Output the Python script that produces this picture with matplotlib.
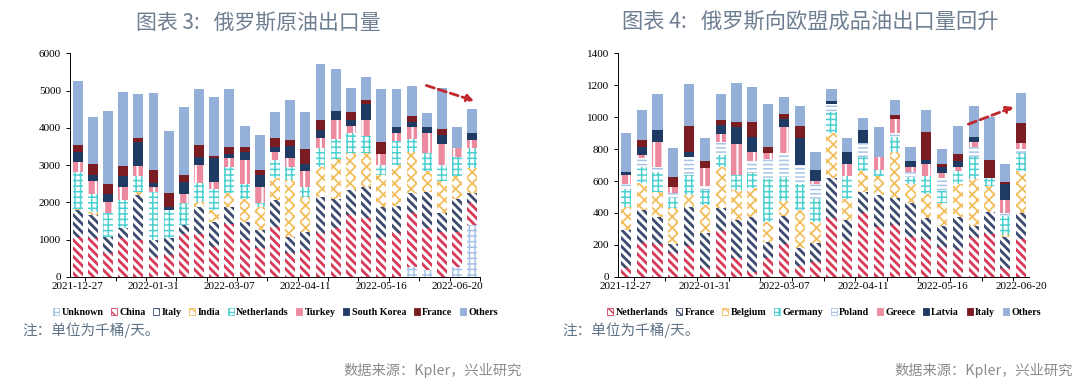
import numpy as np
import matplotlib
matplotlib.use("Agg")
import matplotlib.pyplot as plt
from matplotlib.patches import Patch

plt.rcParams["font.family"] = ["Liberation Serif", "DejaVu Serif"]

# ---- left chart: Russian crude exports by destination (kb/d), weekly from 2021-12-27
crude_ticklabels = ["2021-12-27", "2022-01-31", "2022-03-07", "2022-04-11", "2022-05-16", "2022-06-20"]
crude_names = ["Unknown", "China", "Italy", "India", "Netherlands", "Turkey", "South Korea", "France", "Others"]
crude_unknown = [0] * 22 + [270, 180, 0, 270, 1390]
crude_china = [1070, 1030, 630, 1030, 1000, 540, 580, 1160, 1160, 800, 1430, 980, 760, 1340,
               630, 720, 1180, 1300, 1660, 1570, 1030, 1180, 1430, 1120, 1210, 940, 580]
crude_italy = [730, 620, 440, 270, 1190, 450, 450, 230, 720, 680, 450, 500, 490, 720,
               450, 490, 950, 800, 670, 850, 850, 720, 560, 980, 510, 870, 270]
crude_india = [30, 90, 10, 10, 90, 0, 0, 10, 130, 310, 360, 620, 630, 580,
               1520, 940, 830, 1050, 1000, 910, 850, 1100, 1100, 570, 860, 620, 670]
crude_netherlands = [990, 490, 640, 740, 420, 1280, 760, 570, 500, 580, 710, 400, 90, 490,
                     340, 270, 490, 540, 520, 450, 270, 650, 330, 480, 420, 520, 560]
crude_turkey = [260, 340, 280, 360, 270, 140, 10, 240, 490, 180, 230, 630, 450, 230,
                240, 430, 270, 520, 200, 430, 310, 220, 320, 540, 560, 230, 200]
crude_skorea = [270, 150, 230, 290, 650, 100, 80, 340, 220, 630, 130, 230, 310, 130,
                330, 190, 220, 250, 160, 430, 0, 140, 150, 140, 250, 0, 200]
crude_france = [200, 300, 250, 270, 100, 350, 360, 180, 320, 60, 180, 130, 150, 230,
                160, 380, 270, 0, 220, 120, 320, 0, 160, 0, 150, 0, 0]
crude_others = [1700, 1280, 1960, 2000, 1190, 2070, 1680, 1840, 1500, 1600, 1540, 560, 940, 710,
                1080, 1010, 1500, 1130, 630, 600, 1410, 1030, 800, 400, 1100, 580, 630]

# ---- right chart: Russian product exports to EU by destination (kb/d)
prod_ticklabels = crude_ticklabels
prod_names = ["Netherlands", "France", "Belgium", "Germany", "Poland", "Greece", "Latvia", "Italy", "Others"]
prod_netherlands = [52, 213, 205, 146, 192, 52, 288, 115, 31, 115, 205, 67, 94, 366, 226, 397,
                    314, 324, 247, 234, 184, 167, 247, 268, 52, 234]
prod_france = [241, 205, 171, 59, 247, 220, 140, 240, 345, 104, 175, 111, 115, 251, 129, 136,
               198, 167, 213, 132, 134, 209, 71, 140, 195, 167]
prod_belgium = [146, 167, 157, 223, 73, 177, 262, 188, 178, 126, 96, 240, 136, 282, 130, 132,
                119, 293, 121, 152, 146, 205, 292, 160, 14, 264]
prod_germany = [111, 105, 125, 63, 125, 94, 73, 94, 94, 265, 151, 163, 140, 136, 146, 87,
                38, 94, 46, 113, 76, 84, 138, 49, 119, 108]
prod_poland = [31, 55, 32, 32, 115, 26, 83, 0, 79, 126, 150, 119, 96, 48, 0, 88,
               0, 21, 31, 0, 77, 0, 63, 0, 21, 25]
prod_greece = [56, 18, 156, 41, 0, 110, 49, 195, 57, 37, 159, 0, 21, 0, 75, 0,
               83, 90, 28, 75, 31, 21, 35, 0, 80, 38]
prod_latvia = [17, 48, 74, 0, 32, 0, 56, 104, 94, 0, 53, 167, 67, 18, 78, 80,
               0, 0, 41, 25, 42, 41, 32, 0, 100, 0]
prod_italy = [0, 46, 0, 63, 161, 48, 31, 36, 94, 38, 31, 78, 0, 0, 0, 0,
              0, 25, 0, 178, 16, 42, 0, 114, 15, 125]
prod_others = [245, 188, 223, 182, 261, 140, 161, 244, 219, 272, 104, 125, 115, 74, 83, 73,
               184, 94, 88, 136, 92, 176, 192, 272, 110, 193]

# (facecolor, hatch colour, hatch, hatch linewidth)
RED_H = ("white", "#D63A57", "\\" * 4, 2.0)
NAVY_H = ("white", "#3B4A6E", "\\" * 4, 2.0)
YEL_X = ("white", "#F2BE5C", "xxx", 1.3)
CYAN_G = ("white", "#4DD0D0", "+++", 1.1)
LB_G = ("white", "#A7C3E6", "+++", 1.1)
LB_L = ("white", "#A7C3E6", "----", 1.1)
PINK = ("#EE8AA0", "white", "||", 1.5)
NAVY = ("#1F3B63", "#1F3B63", None, 1.0)
DRED = ("#7B1C22", "#7B1C22", None, 1.0)
LBLUE = ("#94AFD8", "#94AFD8", None, 1.0)

crude_styles = [LB_G, RED_H, NAVY_H, YEL_X, CYAN_G, PINK, NAVY, DRED, LBLUE]
prod_styles = [RED_H, NAVY_H, YEL_X, CYAN_G, LB_L, PINK, NAVY, DRED, LBLUE]


def draw(ax, series, styles, ymax, ystep):
    x = np.arange(len(series[0]))
    bottom = np.zeros(len(x))
    for vals, (fc, hc, h, hlw) in zip(series, styles):
        vals = np.array(vals, dtype=float)
        with plt.rc_context({"hatch.linewidth": hlw}):
            bars = ax.bar(x, vals, 0.65, bottom=bottom, color=fc, edgecolor=hc, hatch=h, lw=0)
        for b in bars:
            if hasattr(b, "set_hatch_linewidth"):
                b.set_hatch_linewidth(hlw)
        bottom += vals
    ax.set_xlim(-0.5, len(x) - 0.5)
    ax.set_ylim(0, ymax)
    ax.set_yticks(np.arange(0, ymax + 1, ystep))
    ax.set_xticks(np.arange(0, len(x), 5))
    ax.set_xticklabels(crude_ticklabels)
    ax.set_xticks(np.arange(0.5, len(x), 2), minor=True)
    ax.tick_params(axis="x", which="major", length=0, pad=4, labelsize=8)
    ax.tick_params(axis="x", which="minor", length=3, width=0.7)
    ax.tick_params(axis="y", length=3, width=0.7, labelsize=8)
    for s in ["top", "right"]:
        ax.spines[s].set_visible(False)
    for s in ["left", "bottom"]:
        ax.spines[s].set_linewidth(0.7)
    # legend swatches: small outlined squares
    handles = []
    for fc, hc, h, hlw in styles:
        edge = hc if fc == "white" else fc
        with plt.rc_context({"hatch.linewidth": 1.0}):
            p = Patch(facecolor=fc, edgecolor=edge, hatch=None if h is None else h[:2], lw=0.6)
        handles.append(p)
    return handles


fig = plt.figure(figsize=(10.8, 3.86), dpi=100)
ax1 = fig.add_axes([0.0648, 0.283, 0.3796, 0.5788])
ax2 = fig.add_axes([0.5722, 0.283, 0.3806, 0.5788])

crude = [crude_unknown, crude_china, crude_italy, crude_india, crude_netherlands,
         crude_turkey, crude_skorea, crude_france, crude_others]
prod = [prod_netherlands, prod_france, prod_belgium, prod_germany, prod_poland,
        prod_greece, prod_latvia, prod_italy, prod_others]
h1 = draw(ax1, crude, crude_styles, 6000, 1000)
h2 = draw(ax2, prod, prod_styles, 1400, 200)

arrow = dict(arrowstyle="-|>", color="#C0282D", lw=2, ls=(0, (3, 1.5)), mutation_scale=10)
ax1.annotate("", xy=(26.3, 4700), xytext=(22.8, 5160), arrowprops=arrow)
ax2.annotate("", xy=(24.7, 1070), xytext=(21.5, 950), arrowprops=arrow)

leg_kw = dict(ncol=9, frameon=False, handlelength=0.6, handleheight=0.6, handletextpad=0.25,
              columnspacing=0.75, loc="center", prop={"family": "Liberation Serif", "weight": "bold", "size": 7.2})
fig.legend(h1, crude_names, bbox_to_anchor=(0.255, 0.19), **leg_kw)
fig.legend(h2, prod_names, bbox_to_anchor=(0.763, 0.19), **leg_kw)

cjk = ["Noto Sans CJK SC", "DejaVu Sans"]
fig.text(0.239, 0.941, "图表 3:   俄罗斯原油出口量", ha="center", va="center",
         family=cjk, size=15, color="#6D7E91")
fig.text(0.750, 0.941, "图表 4:   俄罗斯向欧盟成品油出口量回升", ha="center", va="center",
         family=cjk, size=15.3, color="#6D7E91")
fig.text(0.021, 0.145, "注：单位为千桶/天。", ha="left", va="center", family=cjk, size=10.5, color="#5F7387")
fig.text(0.521, 0.145, "注：单位为千桶/天。", ha="left", va="center", family=cjk, size=10.5, color="#5F7387")
fig.text(0.483, 0.041, "数据来源：Kpler，兴业研究", ha="right", va="center", family=cjk, size=10.3, color="#8C8C8C")
fig.text(0.993, 0.041, "数据来源：Kpler，兴业研究", ha="right", va="center", family=cjk, size=10.3, color="#8C8C8C")

fig.savefig("out.png", dpi=100)
